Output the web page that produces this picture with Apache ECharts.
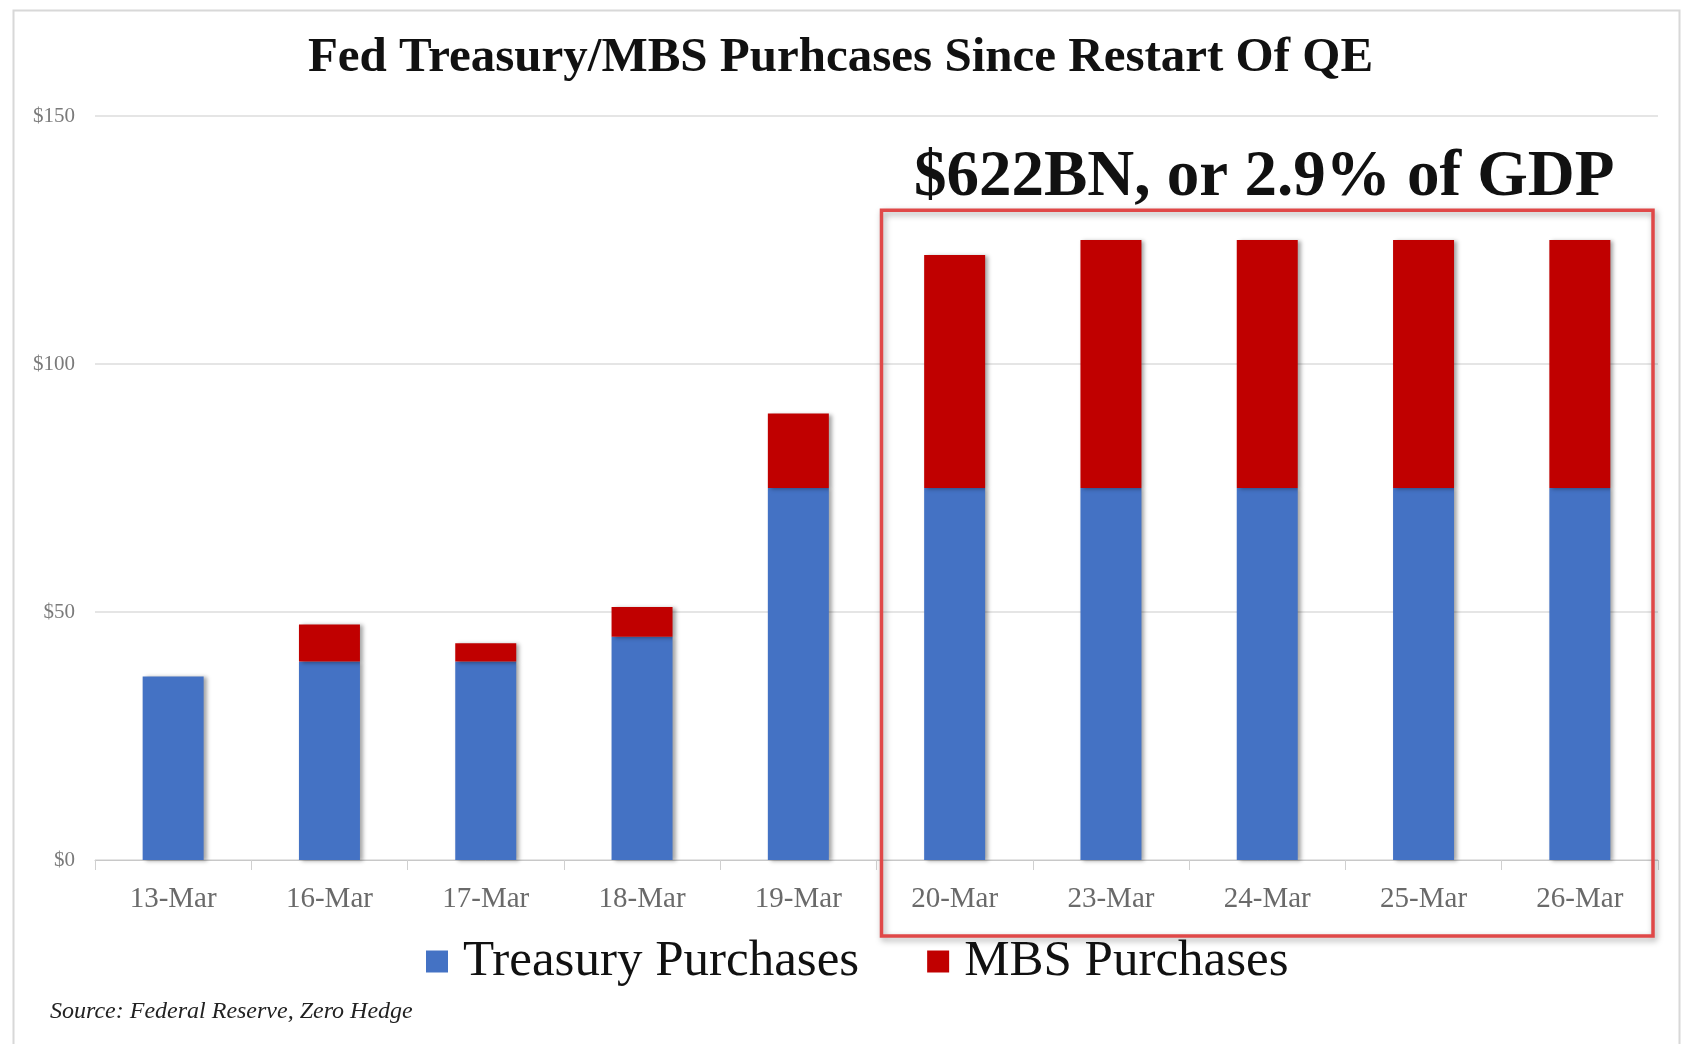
<!DOCTYPE html>
<html>
<head>
<meta charset="utf-8">
<style>
html,body{margin:0;padding:0;background:#fff;}
#c{width:1681px;height:1044px;}
</style>
<script src="https://cdn.jsdelivr.net/npm/echarts@6/dist/echarts.min.js"></script>
</head>
<body>
<div id="c"></div>
<script>
const categories = ['13-Mar','16-Mar','17-Mar','18-Mar','19-Mar','20-Mar','23-Mar','24-Mar','25-Mar','26-Mar'];
const treasury = [37, 40, 40, 45, 75, 75, 75, 75, 75, 75];
const mbs = [0, 7.5, 3.7, 6, 15, 47, 50, 50, 50, 50];
const yTicks = [0, 50, 100, 150];
const titleText = 'Fed Treasury/MBS Purhcases Since Restart Of QE';
const noteText = '$622BN, or 2.9% of GDP';
const sourceText = 'Source: Federal Reserve, Zero Hedge';

const serif = '"Liberation Serif", "DejaVu Serif", serif';
const chart = echarts.init(document.getElementById('c'));
const barShadow = {shadowColor:'rgba(0,0,0,0.35)', shadowBlur:4, shadowOffsetX:3, shadowOffsetY:1};

chart.setOption({
  animation:false,
  backgroundColor:'#fff',
  title:{
    text:titleText, left:'center', top:29,
    textStyle:{fontFamily:serif, fontSize:49, fontWeight:'bold', color:'#111'}
  },
  legend:{
    data:['Treasury Purchases','MBS Purchases'],
    bottom:52, left:421,
    icon:'rect', itemWidth:22, itemHeight:22, itemGap:68,
    textStyle:{fontFamily:serif, fontSize:51, color:'#111', padding:[0,0,0,10]}
  },
  grid:{left:95, right:23, top:116, bottom:184},
  xAxis:{
    type:'category', data:categories,
    axisLine:{lineStyle:{color:'#c8c8c8'}},
    axisTick:{show:true, length:10, lineStyle:{color:'#d0d0d0'}},
    axisLabel:{fontFamily:serif, fontSize:29, color:'#6a6a6a', margin:25}
  },
  yAxis:{
    type:'value', min:yTicks[0], max:yTicks[yTicks.length-1], interval:50,
    axisLine:{show:false}, axisTick:{show:false},
    splitLine:{lineStyle:{color:'#dcdcdc', width:1.5}},
    axisLabel:{fontFamily:serif, fontSize:21, color:'#7a7a7a', margin:20, formatter:v=>'$'+v}
  },
  series:[
    {name:'Treasury Purchases', type:'bar', stack:'t', data:treasury, barWidth:61,
     itemStyle:Object.assign({color:'#4472C4'}, barShadow)},
    {name:'MBS Purchases', type:'bar', stack:'t', data:mbs, barWidth:61,
     itemStyle:Object.assign({color:'#C00000'}, barShadow)}
  ]
});

function drawOverlay(){
  const bandStart = chart.convertToPixel({xAxisIndex:0}, categories[5]);
  const bandEnd = chart.convertToPixel({xAxisIndex:0}, categories[9]);
  const half = (chart.convertToPixel({xAxisIndex:0}, categories[1]) - chart.convertToPixel({xAxisIndex:0}, categories[0]))/2;
  const x0 = bandStart - half + 5;
  const x1 = bandEnd + half - 5;
  const yTop = chart.convertToPixel({yAxisIndex:0}, 131);
  const y0 = chart.convertToPixel({yAxisIndex:0}, 0);
  const yBot = y0 + 76;
  chart.setOption({
    graphic:[
      {type:'rect', left:11, top:8, shape:{width:1666, height:1040}, silent:true, z:-1,
       style:{fill:'none', stroke:'#d8d8d8', lineWidth:2}},
      {type:'rect', shape:{x:x0, y:yTop, width:x1-x0, height:yBot-yTop}, silent:true, z:10,
       style:{fill:'none', stroke:'#e04848', lineWidth:3.5, shadowColor:'rgba(0,0,0,0.35)', shadowBlur:6, shadowOffsetX:2, shadowOffsetY:3}},
      {type:'text', x:(x0+x1)/2 - 3, y:yTop - 32, z:11,
       style:{text:noteText, fontFamily:serif, fontSize:65, fontWeight:'bold', fill:'#111',
              textAlign:'center', textVerticalAlign:'middle',
              shadowColor:'rgba(0,0,0,0.45)', shadowBlur:6, shadowOffsetX:3, shadowOffsetY:4}},
      {type:'text', left:50, top:1000,
       style:{text:sourceText, fontFamily:serif, fontSize:24, fontStyle:'italic', fill:'#222'}}
    ]
  });
}
drawOverlay();
</script>
</body>
</html>
